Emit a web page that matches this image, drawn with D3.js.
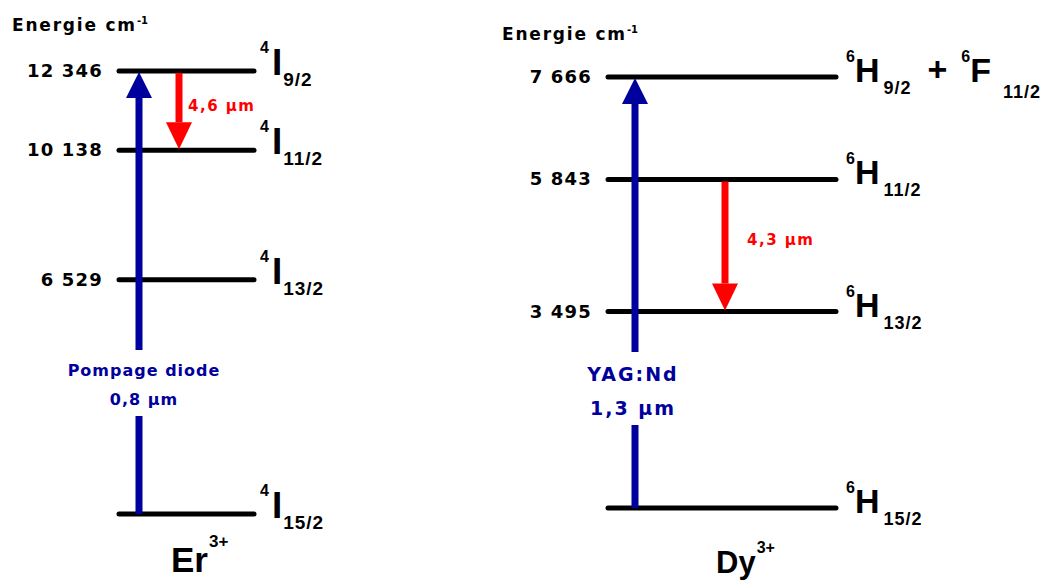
<!DOCTYPE html>
<meta charset="utf-8">
<script src="https://d3js.org/d3.v7.min.js"></script>
<style>
  body { margin: 0; background: #fff; }
  svg { display: block; }
  .tick { font-family: "DejaVu Sans", sans-serif; font-weight: bold; font-size: 18px; letter-spacing: 1.2px; }
  .axlab { font-family: "DejaVu Sans", sans-serif; font-weight: bold; font-size: 17px; letter-spacing: 1.8px; }
  .term { font-family: "Liberation Sans", Arial, sans-serif; font-weight: bold; }
  .ion { font-family: "Liberation Sans", Arial, sans-serif; font-weight: bold; }
</style>
<body>
<div id="chart"></div>
<script>

// Er3+ levels (cm-1) and term symbols [multiplicity, L, J]
var erEnergy = [0, 6529, 10138, 12346];
var erTerms = [["4", "I", "15/2"], ["4", "I", "13/2"], ["4", "I", "11/2"], ["4", "I", "9/2"]];
var erPump = [0, 12346];
var erPumpText = ["Pompage diode", "0,8 µm"];
var erLaser = [12346, 10138];
var erLaserText = "4,6 µm";

// Dy3+ levels, last one is a mixed level
var dyEnergy = [0, 3495, 5843, 7666];
var dyTerms = [[["6", "H", "15/2"]], [["6", "H", "13/2"]], [["6", "H", "11/2"]], [["6", "H", "9/2"], ["6", "F", "11/2"]]];
var dyPump = [0, 7666];
var dyPumpText = ["YAG:Nd", "1,3 µm"];
var dyLaser = [5843, 3495];
var dyLaserText = "4,3 µm";

var axisTitle = "Energie cm";
var axisSup = "-1";

var BLUE = "#00009c", RED = "#ff0000";

var svg = d3.select("#chart").append("svg")
  .attr("width", 1050)
  .attr("height", 583);

var fmt = function(v) { return d3.format(",")(v).replace(",", " "); };

var panels = [
  { ion: "Er", charge: "3+", energy: erEnergy, terms: erTerms.map(function(t) { return [t]; }),
    pump: erPump, pumpText: erPumpText, laser: erLaser, laserText: erLaserText,
    x0: 119, x1: 254, top: 71, bottom: 514, tickX: 103, titleX: 12, titleY: 31,
    pumpX: 139, gap: [350, 416], pumpTextX: 144, pumpTextY: [376, 405], pumpFont: [16, 16], pumpSpacing: 1,
    laserX: 179, laserTextX: 188, laserTextY: 111,
    termX: 260, mainSize: 37, subSize: 19, supSize: 16, baseDy: 4, supDy: -22, subDy: 11, mainDx: 3, subDx: 1,
    ionX: 171, ionY: 572, ionSize: 35, chargeSize: 17, chargeDy: -25 },
  { ion: "Dy", charge: "3+", energy: dyEnergy, terms: dyTerms,
    pump: dyPump, pumpText: dyPumpText, laser: dyLaser, laserText: dyLaserText,
    x0: 608, x1: 836, top: 77, bottom: 508, tickX: 592, titleX: 502, titleY: 40,
    pumpX: 635, gap: [352, 425], pumpTextX: 633, pumpTextY: [381, 415], pumpFont: [19, 19], pumpSpacing: 2,
    laserX: 725, laserTextX: 747, laserTextY: 245,
    termX: 846, mainSize: 34, subSize: 18, supSize: 16, baseDy: 5, supDy: -20, subDy: 12, mainDx: 0, subDx: 4,
    ionX: 716, ionY: 573, ionSize: 31, chargeSize: 16, chargeDy: -20 }
];

function arrowHead(g, x, tipY, dir, len, w, color) {
  // dir = -1 pointing up, +1 pointing down
  var baseY = tipY - dir * len;
  g.append("path")
    .attr("d", "M" + (x - w / 2) + "," + baseY + "L" + (x + w / 2) + "," + baseY + "L" + x + "," + tipY + "Z")
    .attr("fill", color);
  return baseY;
}

panels.forEach(function(p) {
  var g = svg.append("g");
  var y = d3.scaleLinear().domain([0, d3.max(p.energy)]).range([p.bottom, p.top]);

  // axis title, superscript as a tspan so it follows the text
  var title = g.append("text").attr("class", "axlab").attr("x", p.titleX).attr("y", p.titleY);
  title.append("tspan").text(axisTitle);
  title.append("tspan").attr("y", p.titleY - 7)
    .style("font-size", "10px").style("letter-spacing", "0px").text(axisSup);

  // level lines
  g.selectAll(".lvl").data(p.energy).enter().append("line")
    .attr("class", "lvl")
    .attr("x1", p.x0).attr("x2", p.x1)
    .attr("y1", function(d) { return y(d); }).attr("y2", function(d) { return y(d); })
    .attr("stroke", "#000").attr("stroke-width", 5).attr("stroke-linecap", "round");

  // energy values
  g.selectAll(".tick").data(p.energy.filter(function(d) { return d > 0; })).enter().append("text")
    .attr("class", "tick")
    .attr("x", p.tickX).attr("y", function(d) { return y(d) + 6; })
    .attr("text-anchor", "end")
    .text(fmt);

  // term symbols
  p.energy.forEach(function(e, i) {
    var base = y(e) + p.baseDy;
    var txt = g.append("text").attr("class", "term").attr("x", p.termX).attr("y", base);
    p.terms[i].forEach(function(term, k) {
      if (k > 0) {
        txt.append("tspan").attr("y", base - 1).attr("dx", 16).style("font-size", "34px").text("+");
      }
      txt.append("tspan").attr("y", base + p.supDy).attr("dx", k > 0 ? 14 : 0)
        .style("font-size", p.supSize + "px").text(term[0]);
      txt.append("tspan").attr("y", base).attr("dx", p.mainDx)
        .style("font-size", p.mainSize + "px").text(term[1]);
      txt.append("tspan").attr("y", base + p.subDy + (k > 0 ? 4 : 0)).attr("dx", p.subDx + (k > 0 ? 8 : 0))
        .style("font-size", p.subSize + "px").style("letter-spacing", "1px").text(term[2]);
    });
  });

  // pump arrow (blue, upward) with a gap for its label
  var headBase = arrowHead(g, p.pumpX, y(p.pump[1]) + 1, -1, 26, 26, BLUE);
  g.append("line").attr("x1", p.pumpX).attr("x2", p.pumpX)
    .attr("y1", headBase).attr("y2", p.gap[0])
    .attr("stroke", BLUE).attr("stroke-width", 7);
  g.append("line").attr("x1", p.pumpX).attr("x2", p.pumpX)
    .attr("y1", p.gap[1]).attr("y2", y(p.pump[0]))
    .attr("stroke", BLUE).attr("stroke-width", 7);
  p.pumpText.forEach(function(s, i) {
    g.append("text")
      .attr("x", p.pumpTextX).attr("y", p.pumpTextY[i])
      .attr("text-anchor", "middle")
      .style("font-family", "'DejaVu Sans', sans-serif")
      .style("font-weight", "bold")
      .style("font-size", p.pumpFont[i] + "px")
      .style("letter-spacing", p.pumpSpacing + "px")
      .attr("fill", BLUE)
      .text(s);
  });

  // laser transition (red, downward)
  var laserBase = arrowHead(g, p.laserX, y(p.laser[1]) - 1, 1, 27, 26, RED);
  g.append("line").attr("x1", p.laserX).attr("x2", p.laserX)
    .attr("y1", y(p.laser[0]) + 2).attr("y2", laserBase)
    .attr("stroke", RED).attr("stroke-width", 7);
  g.append("text")
    .attr("x", p.laserTextX).attr("y", p.laserTextY)
    .style("font-family", "'DejaVu Sans', sans-serif")
    .style("font-weight", "bold").style("font-size", "15px").style("letter-spacing", "1.5px")
    .attr("fill", RED)
    .text(p.laserText);

  // ion name
  var ion = g.append("text").attr("class", "ion").attr("x", p.ionX).attr("y", p.ionY);
  ion.append("tspan").style("font-size", p.ionSize + "px").text(p.ion);
  ion.append("tspan").attr("y", p.ionY + p.chargeDy).attr("dx", 1)
    .style("font-size", p.chargeSize + "px").text(p.charge);
});

</script>
